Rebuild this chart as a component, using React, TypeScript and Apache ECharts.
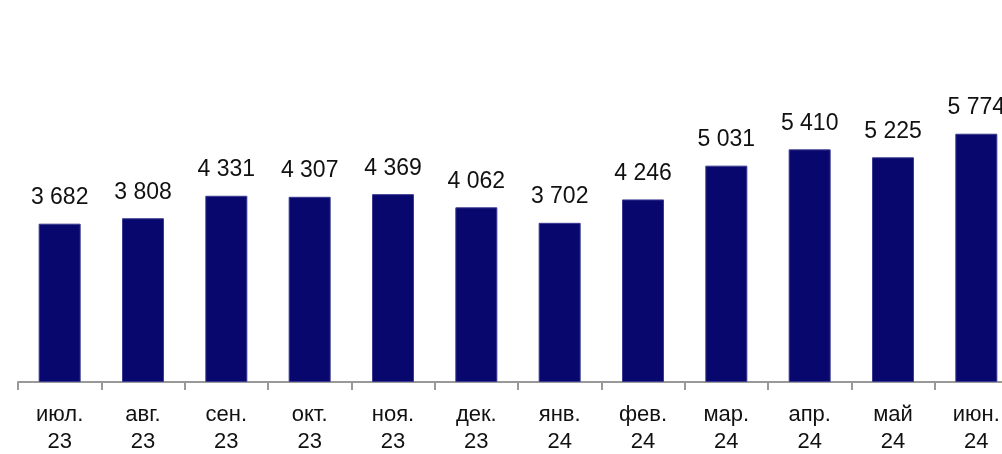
import React, { useEffect, useRef } from "react";
import * as echarts from "echarts";

const categories = ["июл.\n23", "авг.\n23", "сен.\n23", "окт.\n23", "ноя.\n23", "дек.\n23", "янв.\n24", "фев.\n24", "мар.\n24", "апр.\n24", "май\n24", "июн.\n24"];
const values = [3682, 3808, 4331, 4307, 4369, 4062, 3702, 4246, 5031, 5410, 5225, 5774];

const fmt = (v: number) => String(v).replace(/\B(?=(\d{3})+(?!\d))/g, " ");

export default function App() {
  const ref = useRef<HTMLDivElement>(null);
  useEffect(() => {
    document.body.style.margin = "0";
    const chart = echarts.init(ref.current!, undefined, { renderer: "svg", width: 1040, height: 454 });
    chart.setOption({
      animation: false,
      grid: { left: 18, width: 1000, top: 38, height: 349 },
      xAxis: {
        type: "category",
        data: categories,
        axisLine: { lineStyle: { color: "#999", width: 2 } },
        axisTick: { show: true, length: 8, lineStyle: { color: "#999", width: 2 } },
        axisLabel: {
          color: "#111",
          fontSize: 22,
          lineHeight: 27,
          fontFamily: "Liberation Sans, Arial, sans-serif",
          margin: 18,
          interval: 0,
        },
      },
      yAxis: { type: "value", min: 0, max: 8000, show: false, splitLine: { show: false } },
      series: [
        {
          type: "bar",
          data: values,
          barWidth: 42,
          itemStyle: { color: "#07076e", borderColor: "#3a3a90", borderWidth: 1 },
          label: {
            show: true,
            position: "top",
            distance: 16,
            color: "#111",
            fontSize: 23,
            fontFamily: "Liberation Sans Narrow, Arial Narrow, sans-serif",
            formatter: (p: any) => fmt(p.value),
          },
        },
      ],
    });
    return () => chart.dispose();
  }, []);
  return (
    <div style={{ position: "fixed", left: 0, top: 0, width: 1002, height: 454, overflow: "hidden" }}>
      <div ref={ref} style={{ width: 1040, height: 454 }} />
    </div>
  );
}
